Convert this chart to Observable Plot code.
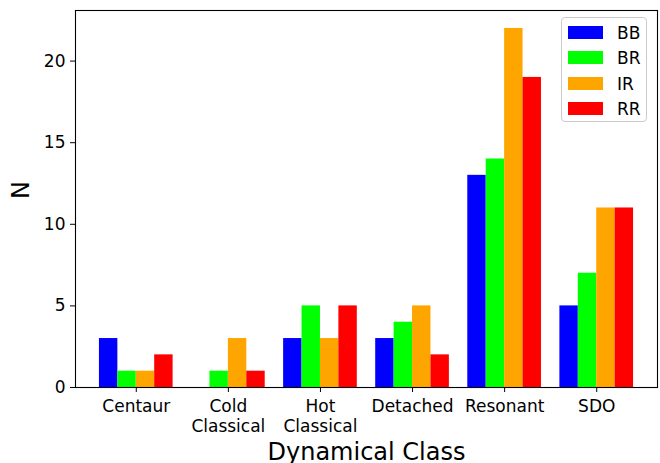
<!DOCTYPE html>
<html>
<head>
<meta charset="utf-8">
<script src="https://cdn.jsdelivr.net/npm/d3@7"></script>
<script src="https://cdn.jsdelivr.net/npm/@observablehq/plot@0.6"></script>
<style>
  html, body { margin: 0; padding: 0; background: #fff; }
  #wrap { position: relative; width: 660px; height: 463px; font-family: "DejaVu Sans", sans-serif; overflow: hidden; }
  #legend { position: absolute; left: 561px; top: 17px; width: 86px; height: 105px; border: 1px solid #cccccc; border-radius: 4px; background: rgba(255,255,255,0.8); box-sizing: border-box; }
  .row { position: absolute; left: 0; height: 26px; width: 100%; }
  .sw { position: absolute; left: 6px; top: 6px; width: 35px; height: 13px; }
  .lab { position: absolute; left: 55px; top: 0; line-height: 26px; font-size: 17px; color: #000; }
</style>
</head>
<body>
<div id="wrap"></div>
<script>
const categories = ["Centaur", "Cold\nClassical", "Hot\nClassical", "Detached", "Resonant", "SDO"];
const series = ["BB", "BR", "IR", "RR"];
const colors = ["#0000ff", "#00ff00", "#ffa500", "#ff0000"];
const BB = [3, 0, 3, 3, 13, 5];
const BR = [1, 1, 5, 4, 14, 7];
const IR = [1, 3, 3, 5, 22, 11];
const RR = [2, 1, 5, 2, 19, 11];
const yTicks = [0, 5, 10, 15, 20];

const values = { BB, BR, IR, RR };
const barW = 0.2;
const rows = [];
categories.forEach((c, i) => {
  series.forEach((s, j) => {
    const x1 = i + (j - 2) * barW;
    rows.push({ category: c, series: s, value: values[s][i], x1, x2: x1 + barW });
  });
});

const chart = Plot.plot({
  width: 660,
  height: 463,
  marginLeft: 75,
  marginRight: 3,
  marginTop: 10,
  marginBottom: 76,
  style: { fontFamily: "DejaVu Sans, sans-serif", background: "white", color: "black" },
  x: { domain: [-0.66, 5.66] },
  y: { domain: [0, 23.1] },
  color: { domain: series, range: colors },
  marks: [
    Plot.rect(rows, { x1: "x1", x2: "x2", y1: 0, y2: "value", fill: "series" }),
    Plot.axisX({ ticks: d3.range(categories.length), tickFormat: i => categories[i], tickSize: 5, tickPadding: 6, fontSize: 17, lineHeight: 1.15, label: null, stroke: "black" }),
    Plot.axisY({ ticks: yTicks, tickSize: 5, tickPadding: 5, fontSize: 17, label: null, stroke: "black" }),
    Plot.frame({ stroke: "black", strokeWidth: 1.1 }),
    Plot.text(["Dynamical Class"], { frameAnchor: "bottom", dy: 65, lineAnchor: "middle", fontSize: 24, fill: "black" }),
    Plot.text(["N"], { frameAnchor: "left", dx: -54, rotate: -90, lineAnchor: "middle", fontSize: 24, fill: "black" })
  ]
});

const wrap = document.getElementById("wrap");
wrap.appendChild(chart);

const legend = document.createElement("div");
legend.id = "legend";
series.forEach((s, j) => {
  const row = document.createElement("div");
  row.className = "row";
  row.style.top = (2 + j * 25.3) + "px";
  const sw = document.createElement("div");
  sw.className = "sw";
  sw.style.background = colors[j];
  const lab = document.createElement("div");
  lab.className = "lab";
  lab.textContent = s;
  row.appendChild(sw);
  row.appendChild(lab);
  legend.appendChild(row);
});
wrap.appendChild(legend);
</script>
</body>
</html>
